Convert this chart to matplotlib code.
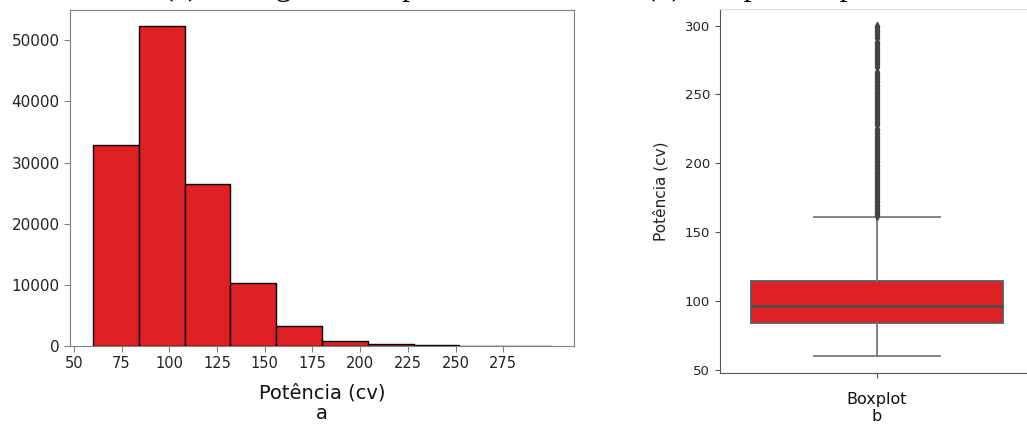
import numpy as np
import matplotlib.pyplot as plt

# histogram of engine power: bin edges (cv) and counts per bin
bin_edges = [60, 84, 108, 132, 156, 180, 204, 228, 252, 276, 300]
counts = [32830, 52340, 26550, 10300, 3330, 820, 380, 165, 55, 20]
hist_xticks = [50, 75, 100, 125, 150, 175, 200, 225, 250, 275]
hist_yticks = [0, 10000, 20000, 30000, 40000, 50000]

# boxplot summary (cv)
box_q1 = 84.5
box_med = 96.5
box_q3 = 115
box_whislo = 60
box_whishi = 161
outliers = [162, 163, 164, 165, 166, 167, 168, 169, 170, 171, 172, 173, 174,
            175, 176, 177, 178, 179, 180, 181, 182, 183, 184, 185, 186, 187,
            188, 189, 190, 191, 192, 193, 194, 195, 196, 197, 198, 199, 200,
            201, 202, 203, 204, 205, 206, 207, 208, 209, 210, 211, 212, 213,
            214, 215, 216, 217, 218, 219, 220, 221, 222, 223, 224, 225, 228,
            229, 230, 231, 232, 233, 234, 235, 236, 237, 238, 239, 240, 241,
            242, 243, 244, 245, 246, 247, 248, 249, 250, 251, 252, 253, 254,
            255, 256, 257, 258, 259, 260, 261, 262, 263, 264, 265, 266, 270,
            271, 272, 273, 274, 275, 276, 277, 278, 279, 280, 281, 282, 283,
            284, 285, 286, 287, 288, 291, 292, 293, 294, 295, 296, 297, 298,
            299, 300]
box_yticks = [50, 100, 150, 200, 250, 300]

red = '#df2024'
spine_gray = '#808080'

fig = plt.figure(figsize=(10.27, 4.25), dpi=100)

# (a) histogram
ax1 = fig.add_axes([70/1027, 79/425, 504/1027, 336/425])
widths = np.diff(bin_edges)
ax1.bar(bin_edges[:-1], counts, width=widths, align='edge',
        color=red, edgecolor='black', linewidth=1.0)
ax1.set_xticks(hist_xticks)
ax1.set_yticks(hist_yticks)
ax1.tick_params(axis='x', labelsize=10.5, color=spine_gray, length=4, labelcolor='#222222')
ax1.tick_params(axis='y', labelsize=11, color=spine_gray, length=4, labelcolor='#222222')
for s in ax1.spines.values():
    s.set_color(spine_gray)
ax1.set_xlabel('Potência (cv)\na', fontsize=14, labelpad=9, color='#111111',
               linespacing=1.1)

# (b) boxplot
ax2 = fig.add_axes([720/1027, 52/425, 314/1027, 364/425])
stats = [dict(med=box_med, q1=box_q1, q3=box_q3, whislo=box_whislo,
              whishi=box_whishi, fliers=outliers)]
ax2.bxp(stats, positions=[0], widths=0.8, patch_artist=True,
        boxprops=dict(facecolor=red, edgecolor='#5a5a5a', linewidth=1.3),
        medianprops=dict(color='#4a4a4a', linewidth=2),
        whiskerprops=dict(color='#7a7a7a', linewidth=1.3),
        capprops=dict(color='#7a7a7a', linewidth=1.3),
        flierprops=dict(marker='d', markersize=4, markerfacecolor='#444444',
                        markeredgecolor='#444444'))
ax2.set_xlim(-0.5, 0.5)
ax2.set_ylim(48, 312)
ax2.set_yticks(box_yticks)
ax2.set_xticks([0])
ax2.set_xticklabels([''])
ax2.tick_params(axis='both', labelsize=9.5, color='#555555', length=3.5,
                labelcolor='#222222')
ax2.spines['left'].set_color('#555555')
ax2.spines['bottom'].set_color('#555555')
ax2.spines['top'].set_color('#dddddd')
ax2.spines['right'].set_visible(False)
ax2.set_ylabel('Potência (cv)', fontsize=11, labelpad=12, color='#222222')
ax2.set_xlabel('Boxplot\nb', fontsize=11.5, labelpad=7, color='#111111',
               linespacing=1.15)

# panel captions above the plots
fig.text(163/1027, 1 + 5/425, '(a) Histograma da potência', family='Liberation Serif',
         fontsize=23, ha='left', va='baseline')
fig.text(645/1027, 1 + 5/425, '(b) Boxplot da potência', family='Liberation Serif',
         fontsize=23, ha='left', va='baseline')

fig.savefig('out.png', dpi=100)
